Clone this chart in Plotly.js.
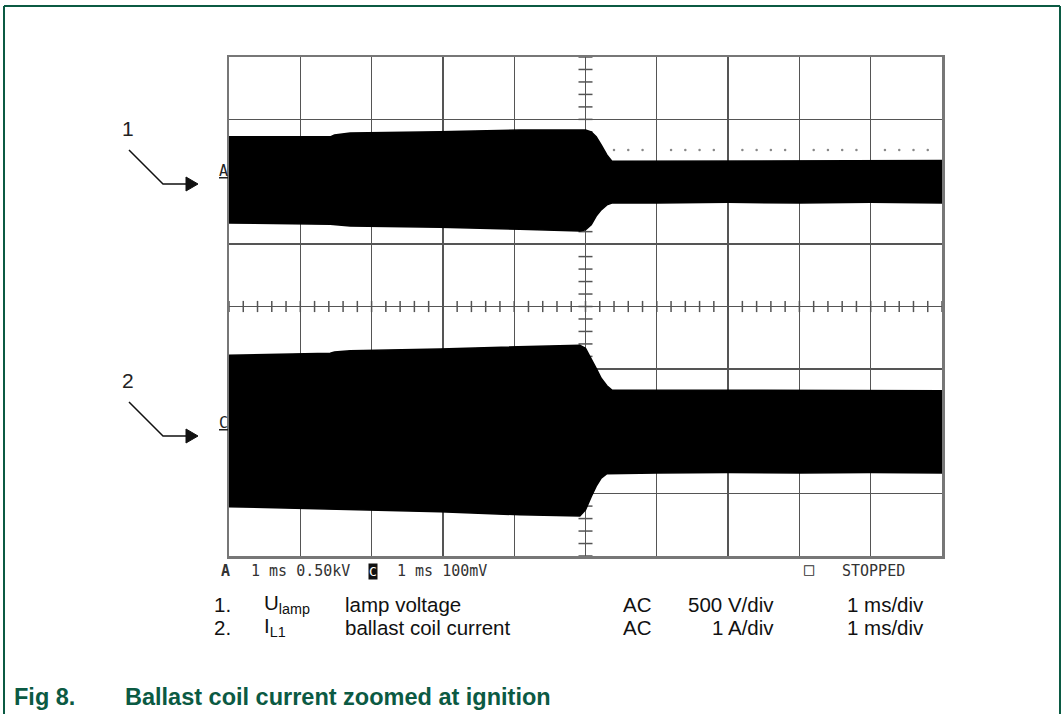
<!DOCTYPE html>
<html>
<head>
<meta charset="utf-8">
<script src="https://cdn.plot.ly/plotly-3.0.1.min.js"></script>
<style>html,body{margin:0;padding:0;background:#fff;}#chart{width:1063px;height:714px;}</style>
</head>
<body>
<div id="chart"></div>
<script>
// time in ms (1 ms/div), amplitudes in screen divisions
const timeMs = [0, 1.42, 1.48, 1.70, 2.96, 4.08, 4.92, 5.00, 5.08, 5.15, 5.22, 5.30, 5.37, 6, 7, 8, 9, 10];
// channel A : lamp voltage envelope
const upperA = [2.72, 2.72, 2.75, 2.78, 2.80, 2.83, 2.83, 2.83, 2.80, 2.72, 2.59, 2.43, 2.33, 2.33, 2.33, 2.34, 2.33, 2.34];
const lowerA = [1.34, 1.32, 1.31, 1.29, 1.27, 1.24, 1.21, 1.23, 1.31, 1.45, 1.55, 1.63, 1.66, 1.66, 1.67, 1.66, 1.67, 1.66];
// channel C : ballast coil current envelope
const upperC = [-0.78, -0.75, -0.73, -0.71, -0.68, -0.65, -0.62, -0.67, -0.83, -0.99, -1.15, -1.27, -1.34, -1.34, -1.34, -1.35, -1.34, -1.35];
const lowerC = [-3.21, -3.25, -3.25, -3.26, -3.29, -3.34, -3.36, -3.26, -3.05, -2.88, -2.75, -2.68, -2.67, -2.67, -2.66, -2.67, -2.66, -2.67];
const triggerLevel = 2.51;

const legendRows = [
  ["1.", "U<sub>lamp</sub>", "lamp voltage", "AC", "500 V/div", "1 ms/div"],
  ["2.", "I<sub>L1</sub>", "ballast coil current", "AC", "1 A/div", "1 ms/div"]
];

const L = 229, R = 942, T = 57, B = 556;
const PX = p => (p - L) / (R - L);
const PY = p => (B - p) / (B - T);

function band(up, lo, name) {
  return {
    x: timeMs.concat(timeMs.slice().reverse()),
    y: up.concat(lo.slice().reverse()),
    fill: 'toself', fillcolor: '#000', mode: 'lines',
    line: {color: '#000', width: 1.5}, name: name, hoverinfo: 'skip'
  };
}

// centre-line graticule ticks
const vTickY = [], hTickX = [], dotsX = [];
for (let k = -20; k <= 20; k++) vTickY.push(k * 0.2);
for (let k = 0; k <= 50; k++) hTickX.push(k * 0.2);
for (let k = 27; k < 50; k++) { if (k % 5 !== 0) dotsX.push(k * 0.2); }

const traces = [
  {x: vTickY.map(() => 5), y: vTickY, mode: 'markers', marker: {symbol: 'line-ew', size: 10, line: {color: '#555', width: 1.5}}, hoverinfo: 'skip'},
  {x: hTickX, y: hTickX.map(() => 0), mode: 'markers', marker: {symbol: 'line-ns', size: 8, line: {color: '#555', width: 1.5}}, hoverinfo: 'skip'},
  {x: dotsX, y: dotsX.map(() => triggerLevel), mode: 'markers', marker: {symbol: 'circle', size: 2.5, color: '#888'}, hoverinfo: 'skip'},
  band(upperA, lowerA, 'A'),
  band(upperC, lowerC, 'C')
];

const ann = [];
function txt(x, y, text, opts) {
  ann.push(Object.assign({xref: 'paper', yref: 'paper', x: PX(x), y: PY(y), text: text, showarrow: false,
    xanchor: 'left', yanchor: 'middle', font: {family: 'Liberation Sans, Arial, sans-serif', size: 20.5, color: '#111'}}, opts || {}));
}
// channel numbers
txt(128, 128, '1', {xanchor: 'center', font: {family: 'Liberation Sans, Arial', size: 21, color: '#222'}});
txt(128, 380, '2', {xanchor: 'center', font: {family: 'Liberation Sans, Arial', size: 21, color: '#222'}});
// channel markers
const mono = {family: 'DejaVu Sans Mono, monospace', size: 15, color: '#333'};
const markFont = {family: 'DejaVu Sans Mono, monospace', size: 15, color: '#222'};
txt(230, 171, '<u>A</u>', {xanchor: 'right', font: markFont});
txt(230, 423, '<u>C</u>', {xanchor: 'right', font: markFont});
// status line
txt(219, 571, '<b>A</b>', {font: mono});
txt(249, 571, '1 ms 0.50kV', {font: mono});
txt(368, 571, 'C', {font: {family: 'DejaVu Sans Mono, monospace', size: 13, color: '#fff'}, bgcolor: '#111', borderpad: 0});
txt(395, 571, '1 ms 100mV', {font: mono});
txt(802, 569, '\u25A1', {font: {family: 'DejaVu Sans Mono, monospace', size: 17, color: '#333'}});
txt(840, 571, 'STOPPED', {font: mono});
// legend table
const rowY = [604, 627];
legendRows.forEach((r, i) => {
  const y = rowY[i];
  txt(212, y, r[0]);
  txt(262, y, r[1]);
  txt(343, y, r[2]);
  txt(621, y, r[3]);
  txt(776, y, r[4], {xanchor: 'right'});
  txt(845, y, r[5]);
});
// caption
const cap = {family: 'Liberation Sans, Arial, sans-serif', size: 23.5, color: '#0b5a43'};
txt(12, 697, '<b>Fig 8.</b>', {font: cap});
txt(123, 697, '<b>Ballast coil current zoomed at ignition</b>', {font: cap});

const frame = '#0b5a43';
const shapes = [
  {type: 'line', xref: 'paper', yref: 'paper', x0: PX(4), x1: PX(1060), y0: PY(6), y1: PY(6), line: {color: frame, width: 2}},
  {type: 'line', xref: 'paper', yref: 'paper', x0: PX(4), x1: PX(4), y0: PY(6), y1: PY(714), line: {color: frame, width: 2}},
  {type: 'line', xref: 'paper', yref: 'paper', x0: PX(1060), x1: PX(1060), y0: PY(6), y1: PY(714), line: {color: frame, width: 2}},
  // arrows
  {type: 'path', xref: 'paper', yref: 'paper', path: `M ${PX(129)} ${PY(150)} L ${PX(163)} ${PY(184)} L ${PX(188)} ${PY(184)}`, line: {color: '#111', width: 1.5}},
  {type: 'path', xref: 'paper', yref: 'paper', path: `M ${PX(186)} ${PY(177)} L ${PX(198)} ${PY(184)} L ${PX(186)} ${PY(191)} Z`, fillcolor: '#111', line: {color: '#111', width: 1}},
  {type: 'path', xref: 'paper', yref: 'paper', path: `M ${PX(129)} ${PY(402)} L ${PX(163)} ${PY(436)} L ${PX(188)} ${PY(436)}`, line: {color: '#111', width: 1.5}},
  {type: 'path', xref: 'paper', yref: 'paper', path: `M ${PX(186)} ${PY(429)} L ${PX(198)} ${PY(436)} L ${PX(186)} ${PY(443)} Z`, fillcolor: '#111', line: {color: '#111', width: 1}}
];

const layout = {
  width: 1063, height: 714,
  margin: {l: L, r: 1063 - R, t: T, b: 714 - B, pad: 0},
  paper_bgcolor: '#fff', plot_bgcolor: '#fff',
  showlegend: false,
  xaxis: {range: [0, 10], dtick: 1, tick0: 0, showgrid: true, gridcolor: '#555', gridwidth: 1.3, zeroline: false,
    showticklabels: false, ticks: '', showline: true, mirror: true, linecolor: '#777', linewidth: 2.5, fixedrange: true},
  yaxis: {range: [-4, 4], dtick: 1, tick0: 0, showgrid: true, gridcolor: '#555', gridwidth: 1.3, zeroline: false,
    showticklabels: false, ticks: '', showline: true, mirror: true, linecolor: '#777', linewidth: 2.5, fixedrange: true},
  annotations: ann,
  shapes: shapes
};

Plotly.newPlot('chart', traces, layout, {displayModeBar: false, staticPlot: true});
</script>
</body>
</html>
